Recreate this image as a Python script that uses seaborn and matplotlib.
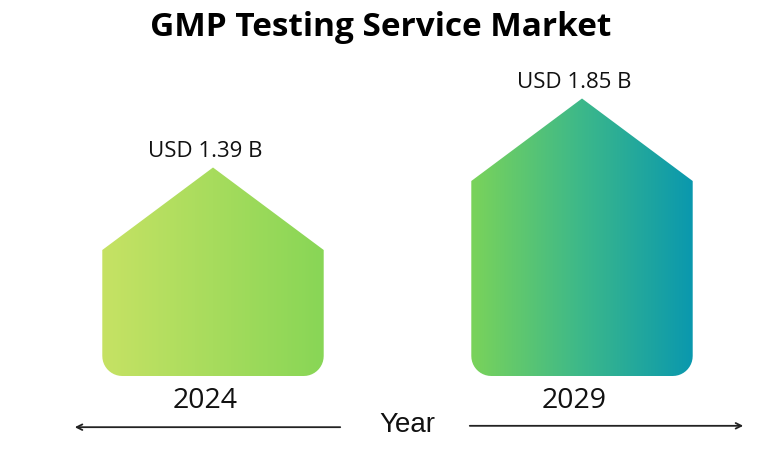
import numpy as np
import pandas as pd
import matplotlib.pyplot as plt
import seaborn as sns
from matplotlib.path import Path
from matplotlib.patches import PathPatch
from matplotlib.colors import LinearSegmentedColormap

years = ['2024', '2029']
market_size = [1.39, 1.85]
value_labels = ['USD 1.39 B', 'USD 1.85 B']
gradients = [['#c6e264', '#88d656'], ['#7ad35a', '#3cb88a', '#0a98ae']]

df = pd.DataFrame({'Year': years, 'Size': market_size})

sns.set_style("white")
plt.rcParams['font.family'] = ['Open Sans', 'DejaVu Sans']

fig = plt.figure(figsize=(7.75, 4.56), dpi=100)
ax = fig.add_axes([0, 0, 1, 1])
sns.barplot(data=df, x='Year', y='Size', width=0.6, ax=ax)

# pixels per data unit
px_x, px_y = 369, 150
ax.set_xlim(-213 / px_x, (775 - 213) / px_x)
ax.set_ylim(-79 / px_y, (456 - 79) / px_y)
ax.axis('off')

roof = 0.55
rad = 20

bars = list(ax.patches)
for i, bar in enumerate(bars):
    x0 = bar.get_x()
    w = bar.get_width()
    h = bar.get_height()
    x1 = x0 + w
    rx, ry = rad / px_x, rad / px_y
    pts = [(x0, h - roof), (x0 + w / 2, h), (x1, h - roof)]
    # rounded bottom corners
    for t in np.linspace(0, np.pi / 2, 12):
        pts.append((x1 - rx + rx * np.cos(t), ry - ry * np.sin(t)))
    for t in np.linspace(np.pi / 2, np.pi, 12):
        pts.append((x0 + rx + rx * np.cos(t), ry - ry * np.sin(t)))
    pts.append((x0, h - roof))
    clip = PathPatch(Path(pts), facecolor='none', edgecolor='none', transform=ax.transData)
    ax.add_patch(clip)
    cmap = LinearSegmentedColormap.from_list(f'g{i}', gradients[i])
    grad = np.linspace(0, 1, 256).reshape(1, -1)
    im = ax.imshow(grad, cmap=cmap, extent=[x0, x1, 0, h], aspect='auto', origin='lower', zorder=2)
    im.set_clip_path(clip)
    bar.remove()

    ax.annotate(value_labels[i], (x0 + w / 2 - 0.022, h), xytext=(0, 5), textcoords='offset points',
                ha='center', va='bottom', fontsize=16, color='#111111')
    ax.text(x0 + w / 2 - 0.02, -0.16, years[i], ha='center', va='center', fontsize=20.5, color='#111111')

ax.set_xlim(-213 / px_x, (775 - 213) / px_x)
ax.set_ylim(-79 / px_y, (456 - 79) / px_y)

fig.text(0.491, 0.940, 'GMP Testing Service Market', ha='center', va='center',
         fontsize=24, fontweight='bold', color='#000000')
fig.text(0.525, 0.068, 'Year', ha='center', va='center', fontsize=20,
         family=['Liberation Sans', 'DejaVu Sans'], color='#111111')
ax.annotate('', xy=(72 / 775, 0.061), xytext=(343 / 775, 0.061), xycoords='figure fraction',
            arrowprops=dict(arrowstyle='->', color='#222222', lw=1.3))
ax.annotate('', xy=(746 / 775, 0.064), xytext=(467 / 775, 0.064), xycoords='figure fraction',
            arrowprops=dict(arrowstyle='->', color='#222222', lw=1.3))

fig.savefig('out.png', dpi=100, facecolor='white')
